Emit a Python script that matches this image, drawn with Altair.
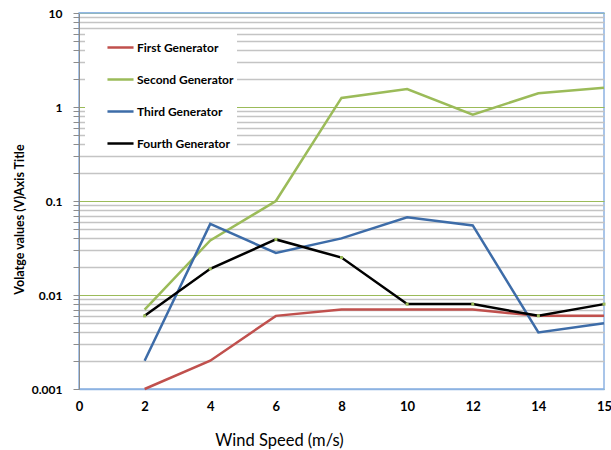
import altair as alt
import pandas as pd

# Wind speed categories on the x axis (evenly spaced), and the measured series
speed_ticks = ["0", "2", "4", "6", "8", "10", "12", "14", "15"]
speeds = ["2", "4", "6", "8", "10", "12", "14", "15"]

first_gen = [0.001, 0.002, 0.006, 0.007, 0.007, 0.007, 0.006, 0.006]
second_gen = [0.007, 0.038, 0.1, 1.25, 1.55, 0.83, 1.4, 1.6]
third_gen = [0.002, 0.057, 0.028, 0.04, 0.067, 0.055, 0.004, 0.005]
fourth_gen = [0.006, 0.019, 0.039, 0.025, 0.008, 0.008, 0.006, 0.008]

series_names = ["First Generator", "Second Generator", "Third Generator", "Fourth Generator"]
series_colors = ["#C0504D", "#9BBB59", "#3D6CA8", "#000000"]

rows = []
for name, vals in zip(series_names, [first_gen, second_gen, third_gen, fourth_gen]):
    for i, (s, v) in enumerate(zip(speeds, vals)):
        rows.append({"speed": s, "step": i, "voltage": v, "series": name})
df = pd.DataFrame(rows)

# log-axis ticks: every 1..9 multiple per decade
y_grid = [round(m * 10 ** e, 6) for e in range(-3, 1) for m in range(1, 10)] + [10]
is_decade = "abs(log(datum.value)/LN10 - round(log(datum.value)/LN10)) < 0.001"

FONT = "Lato"
BLUE_FRAME = "#8DB3E2"

x_enc = alt.X(
    "speed:O",
    scale=alt.Scale(domain=speed_ticks, type="point", padding=0),
    axis=alt.Axis(
        title="Wind Speed (m/s)",
        labelAngle=0,
        ticks=False,
        grid=False,
        domainColor=BLUE_FRAME,
        domainWidth=1.5,
        labelFontWeight="bold",
        labelFontSize=13,
        labelPadding=11,
        labelColor="#000000",
        titleFontSize=16.5,
        titleFontWeight="normal",
        titleColor="#000000",
        titleX=200,
        titleY=51,
        titleBaseline="middle",
    ),
)

y_enc = alt.Y(
    "voltage:Q",
    scale=alt.Scale(type="log", domain=[0.001, 10]),
    axis=alt.Axis(
        title="Volatge  values (V)Axis Title",
        values=y_grid,
        labelExpr="(" + is_decade + ") ? format(datum.value, '~g') : ''",
        labelFontWeight="bold",
        labelFontSize=12,
        labelColor="#000000",
        labelPadding=11,
        tickSize=6,
        tickColor="#8C8C8C",
        domainColor="#8C8C8C",
        domainWidth=1,
        grid=True,
        gridColor={"condition": {"test": is_decade, "value": "#9BBB59"}, "value": "#C4C4C4"},
        gridWidth={"condition": {"test": is_decade, "value": 1.2}, "value": 1.6},
        titleFontSize=12.5,
        titleFontWeight="bold",
        titleColor="#000000",
        titleAngle=270,
        titleX=-60,
        titleY=206,
        titleBaseline="middle",
        titleAlign="center",
    ),
)

color_enc = alt.Color(
    "series:N",
    scale=alt.Scale(domain=series_names, range=series_colors),
    legend=alt.Legend(
        title=None,
        orient="none",
        legendX=6,
        legendY=17,
        fillColor="#FFFFFF",
        padding=3,
        symbolOffset=18,
        symbolType="stroke",
        symbolSize=680,
        symbolStrokeWidth=2.5,
        labelFontSize=12,
        labelFontWeight="bold",
        labelColor="#000000",
        labelOffset=2,
        rowPadding=11,
    ),
)

lines = alt.Chart(df).mark_line(strokeWidth=2.5).encode(
    x=x_enc, y=y_enc, color=color_enc, order="step:Q"
)

# small markers along the fourth series
markers = alt.Chart(df[df["series"] == "Fourth Generator"]).mark_square(
    color="#9BBB59", size=9, opacity=1
).encode(x="speed:O", y="voltage:Q")

# blue frame line along the top of the plot
top_line = alt.Chart(pd.DataFrame({"v": [10]})).mark_rule(
    color=BLUE_FRAME, strokeWidth=1.5
).encode(y="v:Q")

chart = (
    alt.layer(lines, markers, top_line)
    .properties(
        width=525,
        height=376,
        autosize=alt.AutoSizeParams(type="none"),
        padding={"left": 79, "top": 13, "right": 7, "bottom": 61},
    )
    .configure(font=FONT)
    .configure_view(stroke=BLUE_FRAME, strokeWidth=1.5)
)

chart.save("out.html", embed_options={"renderer": "svg", "actions": False})
